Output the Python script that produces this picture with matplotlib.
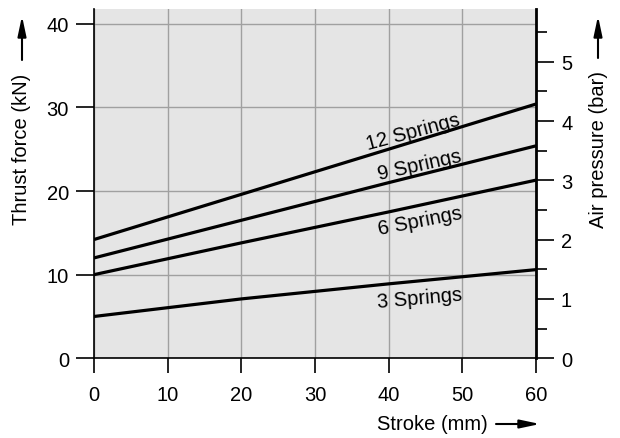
import matplotlib
matplotlib.use("Agg")
import matplotlib.pyplot as plt
from matplotlib.ticker import MultipleLocator

plt.rcParams['font.family'] = ['Liberation Sans', 'DejaVu Sans']

# Data (stroke in mm, thrust force in kN)
stroke = [0, 20, 40, 60]
springs_12 = [14.2, 19.6, 25.0, 30.4]
springs_9 = [12.0, 16.5, 21.0, 25.4]
springs_6 = [10.0, 13.8, 17.5, 21.3]
springs_3 = [5.0, 7.1, 8.9, 10.6]
series_labels = ["12 Springs", "9 Springs", "6 Springs", "3 Springs"]
x_ticks = [0, 10, 20, 30, 40, 50, 60]
force_ticks = [0, 10, 20, 30, 40]
pressure_ticks = [0, 1, 2, 3, 4, 5]

W, H = 620, 439
fig = plt.figure(figsize=(W / 100, H / 100), dpi=100)
ax = fig.add_axes([94 / W, 1 - 359.3 / H, (536 - 94) / W, (359.3 - 10) / H])
ax.set_facecolor('#e5e5e5')

FS = 14.5
ax.set_xlim(0, 60)
ax.set_ylim(0, 41.76)
ax.set_xticks(x_ticks)
ax.set_yticks(force_ticks)
ax.grid(True, color='#a0a0a0', lw=1.0)
ax.set_axisbelow(True)
ax.tick_params(axis='x', direction='out', length=11, width=1.2, pad=8, labelsize=FS)
ax.tick_params(axis='y', direction='out', length=13, width=1.2, pad=5, labelsize=FS)
for s in ['top', 'right']:
    ax.spines[s].set_visible(False)
for s in ['left', 'bottom']:
    ax.spines[s].set_linewidth(1.2)

for ys in [springs_12, springs_9, springs_6, springs_3]:
    ax.plot(stroke, ys, color='black', lw=2.3, solid_capstyle='butt', zorder=3)

label_pos = [(43.3, 27.17, 15), (44.2, 23.11, 12.5), (44.2, 16.41, 11), (44.2, 7.21, 5)]
for lab, (lx, ly, rot) in zip(series_labels, label_pos):
    ax.text(lx, ly, lab, fontsize=FS, rotation=rot, rotation_mode='anchor',
            ha='center', va='center', zorder=4)

ax2 = ax.twinx()
ax2.set_ylim(0, 5.89)
ax2.set_yticks(pressure_ticks)
ax2.yaxis.set_minor_locator(MultipleLocator(0.5))
ax2.tick_params(axis='y', which='major', direction='out', length=13, width=1.2, pad=5, labelsize=FS)
ax2.tick_params(axis='y', which='minor', direction='out', length=8, width=1.2)
for s in ['top', 'left', 'bottom']:
    ax2.spines[s].set_visible(False)
ax2.spines['right'].set_linewidth(2.0)


def fx(px):
    return px / W


def fy(py):
    return 1 - py / H


arrow = dict(arrowstyle='-|>,head_length=0.8,head_width=0.17', lw=1.5, color='black',
             mutation_scale=15, shrinkA=0, shrinkB=0)

fig.text(fx(22), fy(149), "Thrust force (kN)", rotation=90, ha='center', va='center', fontsize=FS)
fig.add_artist(matplotlib.patches.FancyArrowPatch((fx(22), fy(61)), (fx(22), fy(17)),
                                                  transform=fig.transFigure, **arrow))

fig.text(fx(598), fy(150), "Air pressure (bar)", rotation=90, ha='center', va='center', fontsize=FS)
fig.add_artist(matplotlib.patches.FancyArrowPatch((fx(598), fy(59)), (fx(598), fy(17)),
                                                  transform=fig.transFigure, **arrow))

fig.text(fx(377), fy(425), "Stroke (mm)", ha='left', va='center', fontsize=FS)
fig.add_artist(matplotlib.patches.FancyArrowPatch((fx(496), fy(425)), (fx(540), fy(425)),
                                                  transform=fig.transFigure, **arrow))

fig.savefig("out.png", dpi=100)
